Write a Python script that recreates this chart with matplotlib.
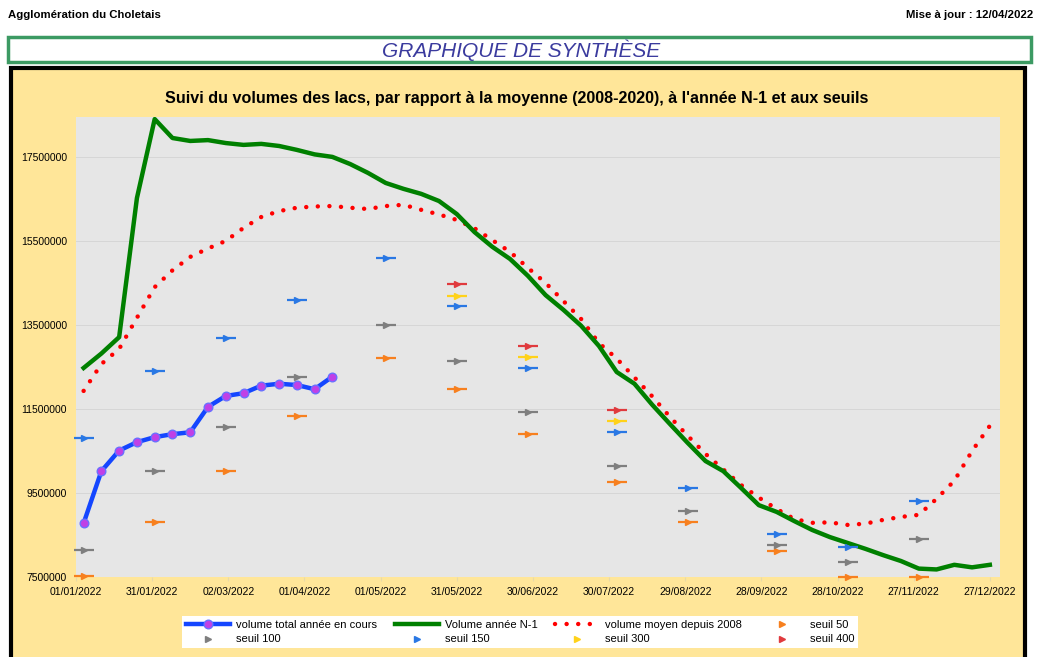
import numpy as np
import pandas as pd
import matplotlib
matplotlib.use("Agg")
import matplotlib.pyplot as plt
import matplotlib.dates as mdates
from matplotlib.patches import Rectangle
from matplotlib.ticker import FuncFormatter

plt.rcParams["font.family"] = ["Liberation Sans", "DejaVu Sans"]

# weekly dates (tuesdays) used by all series
week_dates = pd.date_range("2022-01-04", periods=52, freq="7D")
tick_dates = pd.date_range("2022-01-01", periods=13, freq="30D")
y_ticks = [7500000, 9500000, 11500000, 13500000, 15500000, 17500000]

# volume total année en cours (15 weeks, up to 12/04/2022)
volume_current = [8780000, 10020000, 10510000, 10710000, 10830000, 10900000, 10945000,
                  11550000, 11810000, 11875000, 12055000, 12100000, 12070000, 11970000,
                  12270000]

# Volume année N-1
volume_n1 = [12476000, 12820000, 13210000, 16520000, 18400000, 17950000, 17880000, 17900000,
             17830000, 17786000, 17810000, 17760000, 17667000, 17560000, 17500000, 17330000,
             17120000, 16880000, 16740000, 16620000, 16450000, 16140000, 15710000, 15360000,
             15070000, 14670000, 14210000, 13860000, 13480000, 13000000, 12380000, 12100000,
             11600000, 11140000, 10690000, 10260000, 10020000, 9620000, 9210000, 9050000,
             8830000, 8620000, 8450000, 8310000, 8170000, 8020000, 7880000, 7700000,
             7680000, 7790000, 7730000, 7790000]

# volume moyen depuis 2008
volume_mean = [11930000, 12570000, 12930000, 13670000, 14400000, 14800000, 15120000, 15320000,
               15500000, 15810000, 16070000, 16210000, 16290000, 16320000, 16330000, 16290000,
               16260000, 16330000, 16360000, 16240000, 16130000, 16000000, 15800000, 15520000,
               15240000, 14860000, 14500000, 14070000, 13640000, 13070000, 12700000, 12250000,
               11800000, 11310000, 10860000, 10430000, 10060000, 9690000, 9390000, 9120000,
               8880000, 8790000, 8800000, 8740000, 8770000, 8860000, 8930000, 8980000,
               9360000, 9790000, 10500000, 11100000]

# seuils (one value per month, on weekly dates)
seuil_weeks = [0, 4, 8, 12, 17, 21, 25, 30, 34, 39, 43, 47]
nan = np.nan
seuil_50 = [7520000, 8820000, 10020000, 11330000, 12720000, 11980000, 10900000, 9760000,
            8810000, 8120000, 7510000, 7510000]
seuil_100 = [8140000, 10020000, 11080000, 12270000, 13500000, 12640000, 11420000, 10150000,
             9080000, 8250000, 7860000, 8410000]
seuil_150 = [10800000, 12410000, 13190000, 14100000, 15090000, 13950000, 12480000, 10950000,
             9610000, 8520000, 8220000, 9320000]
seuil_300 = [nan, nan, nan, nan, nan, 14200000, 12740000, 11220000, nan, nan, nan, nan]
seuil_400 = [nan, nan, nan, nan, nan, 14470000, 13000000, 11480000, nan, nan, nan, nan]

fig = plt.figure(figsize=(10.38, 6.57), dpi=100)
fig.patch.set_facecolor("white")

# header texts
narrow = ["Liberation Sans Narrow", "Liberation Sans", "DejaVu Sans"]
fig.text(8 / 1038, 1 - 15 / 657, "Agglomération du Choletais", family=narrow,
         fontsize=8.2, fontweight="bold", ha="left", va="center")
fig.text(1033 / 1038, 1 - 15 / 657, "Mise à jour : 12/04/2022", family=narrow,
         fontsize=8.2, fontweight="bold", ha="right", va="center")

# green title box
fig.patches.append(Rectangle((8 / 1038, 1 - 62 / 657), 1023 / 1038, 25 / 657,
                             transform=fig.transFigure, facecolor="white",
                             edgecolor="#3c9a63", linewidth=2.5, zorder=-2))
fig.text(521 / 1038, 1 - 50 / 657, "GRAPHIQUE DE SYNTHÈSE", fontsize=15, style="italic",
         color="#3b3b9e", ha="center", va="center")

# yellow chart panel with black border
fig.patches.append(Rectangle((11 / 1038, -0.05), 1014 / 1038, 1 - 68 / 657 + 0.05,
                             transform=fig.transFigure, facecolor="#ffe699",
                             edgecolor="black", linewidth=3, zorder=-2))

fig.text(517 / 1038, 1 - 99 / 657,
         "Suivi du volumes des lacs, par rapport à la moyenne (2008-2020), à l'année N-1 et aux seuils",
         fontsize=11.6, fontweight="bold", ha="center", va="center")

ax = fig.add_axes([76 / 1038, 1 - 577 / 657, 924 / 1038, 460 / 657])
ax.set_zorder(1)
ax.set_facecolor("#e6e6e6")

ax.plot(week_dates, volume_mean, color="#ff0000", linewidth=3.2,
        linestyle=(0, (0.01, 2.6)), dash_capstyle="round", label="volume moyen depuis 2008",
        zorder=3)
ax.plot(week_dates, volume_n1, color="#008000", linewidth=3.2, solid_joinstyle="round",
        label="Volume année N-1", zorder=4)
ax.plot(week_dates[:len(volume_current)], volume_current, color="#1446ff", linewidth=3.2,
        solid_joinstyle="round", marker="o", markersize=6.2, markerfacecolor="#c040e6",
        markeredgecolor="#6a70ff", markeredgewidth=1.0, label="volume total année en cours",
        zorder=5)

seuil_dates = week_dates[seuil_weeks]
seuils = [(seuil_50, "#f7801f", "seuil 50"), (seuil_100, "#7f7f7f", "seuil 100"),
          (seuil_150, "#2a78e4", "seuil 150"), (seuil_300, "#ffd21a", "seuil 300"),
          (seuil_400, "#e03a3e", "seuil 400")]
for values, color, name in seuils:
    ax.plot(seuil_dates, values, linestyle="none", marker="_", markersize=14,
            markeredgewidth=1.6, color=color, clip_on=False, zorder=6)
    ax.plot(seuil_dates, values, linestyle="none", marker=">", markersize=4.5,
            color=color, clip_on=False, zorder=7, label=name)

ax.set_xlim(pd.Timestamp("2022-01-01"), pd.Timestamp("2022-12-31"))
ax.set_ylim(7500000, 18450000)
ax.set_xticks(tick_dates)
ax.xaxis.set_major_formatter(mdates.DateFormatter("%d/%m/%Y"))
ax.set_yticks(y_ticks)
ax.yaxis.set_major_formatter(FuncFormatter(lambda v, p: f"{int(v)}"))
ax.tick_params(axis="both", labelsize=7.5, length=3, color="#e8d9a8")
ax.tick_params(axis="y", length=0, pad=6.5)
ax.tick_params(axis="x", pad=4)
ax.grid(axis="y", color="#d6d6d6", linewidth=0.7)
ax.set_axisbelow(True)
for s in ax.spines.values():
    s.set_visible(False)

handles, labels = ax.get_legend_handles_labels()
lookup = dict(zip(labels, handles))
order = ["volume total année en cours", "seuil 100", "Volume année N-1", "seuil 150",
         "volume moyen depuis 2008", "seuil 300", "seuil 50", "seuil 400"]
leg = fig.legend([lookup[o] for o in order], order, loc="center",
                 bbox_to_anchor=(520 / 1038, 1 - 632 / 657), ncol=4, fontsize=8,
                 frameon=True, fancybox=False, edgecolor="white", facecolor="white",
                 framealpha=1, handlelength=4, columnspacing=1.6, labelspacing=0.45,
                 borderpad=0.35, handletextpad=0.5)
leg.get_frame().set_linewidth(0)
leg.set_zorder(10)

fig.savefig("out.png", dpi=100)
